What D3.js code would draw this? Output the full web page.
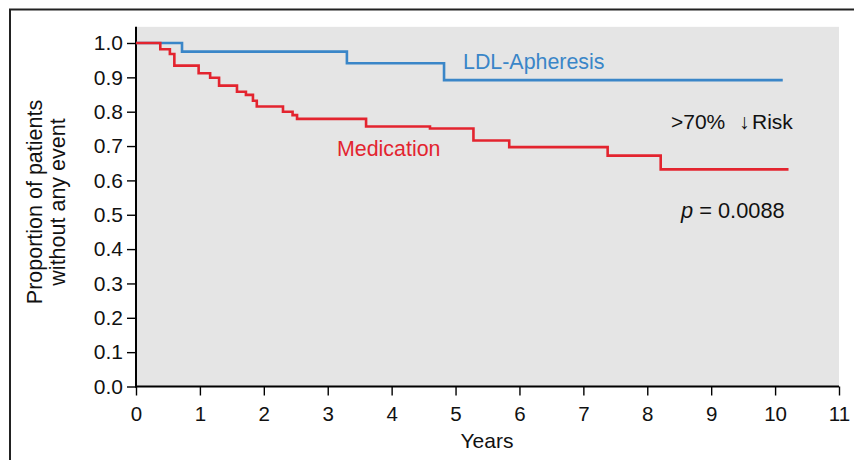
<!DOCTYPE html>
<html>
<head>
<meta charset="utf-8">
<script src="https://cdn.jsdelivr.net/npm/d3@7"></script>
<style>
  body { margin: 0; background: #fff; }
  svg { font-family: "Liberation Sans", Arial, Helvetica, sans-serif; }
</style>
</head>
<body>
<div id="graph"></div>
<script>
// Kaplan-Meier style step data (years, proportion without event)
var apheresis_times = [0, 0.72, 3.30, 4.82, 10.12];
var apheresis_surv  = [1.0, 0.975, 0.941, 0.892, 0.892];

var medication_times = [0, 0.38, 0.53, 0.60, 0.98, 1.16, 1.30, 1.58, 1.72, 1.83, 1.89,
                        2.30, 2.45, 2.52, 3.60, 4.60, 5.28, 5.84, 7.38, 8.21, 10.21];
var medication_surv  = [1.0, 0.982, 0.968, 0.934, 0.912, 0.899, 0.876, 0.858, 0.849, 0.832, 0.815,
                        0.800, 0.790, 0.779, 0.757, 0.751, 0.716, 0.697, 0.672, 0.632, 0.632];

var x_ticks = [0, 1, 2, 3, 4, 5, 6, 7, 8, 9, 10, 11];
var y_ticks = [0, 0.1, 0.2, 0.3, 0.4, 0.5, 0.6, 0.7, 0.8, 0.9, 1.0];

var w = 854, h = 460;
var blue = '#3a86c8', red = '#e3242f';
var font = '"Liberation Sans", Arial, sans-serif';

var x = d3.scaleLinear().domain([0, 11]).range([136, 839]);
var y = d3.scaleLinear().domain([0, 1]).range([386.5, 43]);

var svg = d3.select('#graph').append('svg')
    .attr('width', w)
    .attr('height', h);

// outer frame (top + left only)
svg.append('path')
    .attr('d', 'M10,' + h + 'V9.5H' + w)
    .attr('fill', 'none')
    .attr('stroke', '#222')
    .attr('stroke-width', 2);

// plot background
svg.append('rect')
    .attr('x', x(0))
    .attr('y', y(1.047))
    .attr('width', x(11) - x(0))
    .attr('height', y(0) - y(1.047))
    .attr('fill', '#e5e5e5');

// axes
var yAxis = svg.append('g')
    .attr('transform', 'translate(' + x(0) + ',0)')
    .call(d3.axisLeft(y).tickValues(y_ticks).tickFormat(d3.format('.1f')).tickSize(9).tickSizeOuter(0));
yAxis.select('.domain').remove();
yAxis.append('line')
    .attr('x1', 0).attr('x2', 0)
    .attr('y1', y(1.047)).attr('y2', y(0) + 1)
    .attr('stroke', '#000').attr('stroke-width', 2);

var xAxis = svg.append('g')
    .attr('transform', 'translate(0,' + y(0) + ')')
    .call(d3.axisBottom(x).tickValues(x_ticks).tickFormat(d3.format('d')).tickSize(9).tickSizeOuter(0));
xAxis.select('.domain').remove();
xAxis.append('line')
    .attr('x1', x(0) - 1).attr('x2', x(11))
    .attr('y1', 0).attr('y2', 0)
    .attr('stroke', '#000').attr('stroke-width', 2);

svg.selectAll('.tick line').attr('stroke', '#000').attr('stroke-width', 1.4);
yAxis.selectAll('.tick text')
    .attr('font-size', 21)
    .attr('font-family', font)
    .attr('fill', '#111')
    .attr('x', -13);
xAxis.selectAll('.tick text')
    .attr('font-size', 20.5)
    .attr('font-family', font)
    .attr('fill', '#111')
    .attr('y', 20);

// axis titles
svg.append('text')
    .attr('x', 487).attr('y', 448)
    .attr('text-anchor', 'middle')
    .attr('font-size', 21)
    .attr('fill', '#111')
    .text('Years');

var ylab = svg.append('text')
    .attr('transform', 'translate(0,202)rotate(-90)')
    .attr('text-anchor', 'middle')
    .attr('font-size', 21.5)
    .attr('fill', '#111');
ylab.append('tspan').attr('x', 0).attr('y', 42).text('Proportion of patients');
ylab.append('tspan').attr('x', 0).attr('y', 65).text('without any event');

// survival curves
var line = d3.line()
    .x(function(d) { return x(d[0]); })
    .y(function(d) { return y(d[1]); })
    .curve(d3.curveStepAfter);

svg.append('path')
    .datum(d3.zip(apheresis_times, apheresis_surv))
    .attr('d', line)
    .attr('fill', 'none')
    .attr('stroke', blue)
    .attr('stroke-width', 2.6);

svg.append('path')
    .datum(d3.zip(medication_times, medication_surv))
    .attr('d', line)
    .attr('fill', 'none')
    .attr('stroke', red)
    .attr('stroke-width', 2.6);

// annotations
svg.append('text')
    .attr('x', 463).attr('y', 69)
    .attr('font-size', 21.4)
    .attr('fill', blue)
    .text('LDL-Apheresis');

svg.append('text')
    .attr('x', 337).attr('y', 156)
    .attr('font-size', 21.4)
    .attr('fill', red)
    .text('Medication');

var risk = svg.append('text')
    .attr('y', 129)
    .attr('font-size', 21)
    .attr('fill', '#111');
risk.append('tspan').attr('x', 671).text('>70%');
risk.append('tspan').attr('x', 739).text('\u2193');
risk.append('tspan').attr('x', 752).text('Risk');

var pval = svg.append('text')
    .attr('x', 681).attr('y', 218)
    .attr('font-size', 21.8)
    .attr('fill', '#111');
pval.append('tspan').attr('font-style', 'italic').text('p');
pval.append('tspan').text(' = 0.0088');
</script>
</body>
</html>
